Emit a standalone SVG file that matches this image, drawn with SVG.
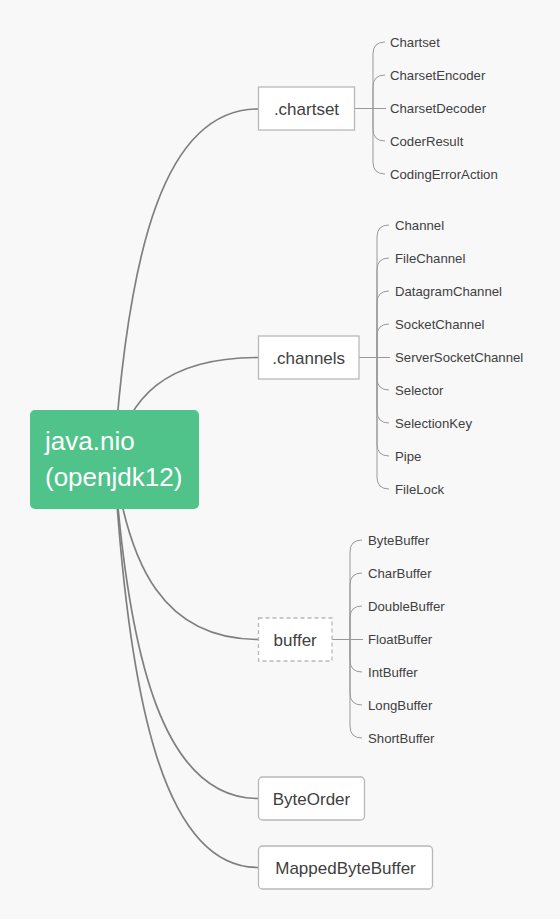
<svg xmlns="http://www.w3.org/2000/svg" width="560" height="919" viewBox="0 0 560 919">
<style>
.bg{fill:#f8f8f8}
.main{fill:none;stroke:#7f7f7f;stroke-width:1.7}
.br{fill:none;stroke:#999999;stroke-width:1}
.box{fill:#ffffff;stroke:#b8b8b8;stroke-width:1.3}
.dash{fill:#ffffff;stroke:#b8b8b8;stroke-width:1.3;stroke-dasharray:4 3}
.bt{font-family:"Liberation Sans",Arial,sans-serif;font-size:17px;fill:#404040;text-anchor:middle}
.ct{font-family:"Liberation Sans",Arial,sans-serif;font-size:13.2px;fill:#404040}
.rt{font-family:"Liberation Sans",Arial,sans-serif;font-size:26px;fill:#ffffff}
</style>
<rect class="bg" x="0" y="0" width="560" height="919"/>
<g id="connectors">
<path class="main" d="M114,459 C128.4,249 164.4,109 258,109"/>
<path class="main" d="M114,459 C128.4,398.1 164.4,357.5 258,357.5"/>
<path class="main" d="M114,459 C128.4,567.3 164.4,639.5 258,639.5"/>
<path class="main" d="M114,459 C128.4,662.7 164.4,798.5 258,798.5"/>
<path class="main" d="M114,459 C128.4,704.1 164.4,867.5 258,867.5"/>
<path class="br" d="M354,108.5 L386,108.5"/>
<path class="br" d="M373,108.5 L373,54 Q373,42 385,42"/>
<path class="br" d="M373,108.5 L373,87 Q373,75 385,75"/>
<path class="br" d="M373,108.5 L373,129 Q373,141 385,141"/>
<path class="br" d="M373,108.5 L373,162 Q373,174 385,174"/>
<path class="br" d="M359,357.5 L390,357.5"/>
<path class="br" d="M377,357.5 L377,237 Q377,225 389,225"/>
<path class="br" d="M377,357.5 L377,270 Q377,258 389,258"/>
<path class="br" d="M377,357.5 L377,303 Q377,291 389,291"/>
<path class="br" d="M377,357.5 L377,336 Q377,324 389,324"/>
<path class="br" d="M377,357.5 L377,378 Q377,390 389,390"/>
<path class="br" d="M377,357.5 L377,411 Q377,423 389,423"/>
<path class="br" d="M377,357.5 L377,444 Q377,456 389,456"/>
<path class="br" d="M377,357.5 L377,477 Q377,489 389,489"/>
<path class="br" d="M332,639.5 L363,639.5"/>
<path class="br" d="M350,639.5 L350,552 Q350,540 362,540"/>
<path class="br" d="M350,639.5 L350,585 Q350,573 362,573"/>
<path class="br" d="M350,639.5 L350,618 Q350,606 362,606"/>
<path class="br" d="M350,639.5 L350,660 Q350,672 362,672"/>
<path class="br" d="M350,639.5 L350,693 Q350,705 362,705"/>
<path class="br" d="M350,639.5 L350,726 Q350,738 362,738"/>
</g>
<g id="root">
<rect x="30" y="410" width="169" height="99" rx="5" fill="#50c38b"/>
<text class="rt" x="45" y="450">java.nio</text>
<text class="rt" x="45" y="486">(openjdk12)</text>
</g>
<g id="chartset">
<rect class="box" x="258.5" y="87" width="96" height="43"/>
<text class="bt" x="306.5" y="114.5">.chartset</text>
</g>
<g id="chartset-children">
<text class="ct" x="390" y="47">Chartset</text>
<text class="ct" x="390" y="80">CharsetEncoder</text>
<text class="ct" x="390" y="113">CharsetDecoder</text>
<text class="ct" x="390" y="146">CoderResult</text>
<text class="ct" x="390" y="179">CodingErrorAction</text>
</g>
<g id="channels">
<rect class="box" x="258.5" y="336" width="100.5" height="43"/>
<text class="bt" x="308.7" y="363.5">.channels</text>
</g>
<g id="channels-children">
<text class="ct" x="395" y="230">Channel</text>
<text class="ct" x="395" y="263">FileChannel</text>
<text class="ct" x="395" y="296">DatagramChannel</text>
<text class="ct" x="395" y="329">SocketChannel</text>
<text class="ct" x="395" y="362">ServerSocketChannel</text>
<text class="ct" x="395" y="395">Selector</text>
<text class="ct" x="395" y="428">SelectionKey</text>
<text class="ct" x="395" y="461">Pipe</text>
<text class="ct" x="395" y="494">FileLock</text>
</g>
<g id="buffer">
<rect class="dash" x="258.5" y="618" width="73.5" height="43"/>
<text class="bt" x="295.2" y="645.5">buffer</text>
</g>
<g id="buffer-children">
<text class="ct" x="368" y="545">ByteBuffer</text>
<text class="ct" x="368" y="578">CharBuffer</text>
<text class="ct" x="368" y="611">DoubleBuffer</text>
<text class="ct" x="368" y="644">FloatBuffer</text>
<text class="ct" x="368" y="677">IntBuffer</text>
<text class="ct" x="368" y="710">LongBuffer</text>
<text class="ct" x="368" y="743">ShortBuffer</text>
</g>
<g id="byteorder">
<rect class="box" x="258.5" y="777" width="106" height="43" rx="4"/>
<text class="bt" x="311.5" y="804.5">ByteOrder</text>
</g>
<g id="mappedbytebuffer">
<rect class="box" x="258.5" y="846" width="174" height="43" rx="4"/>
<text class="bt" x="345.5" y="873.5">MappedByteBuffer</text>
</g>
</svg>
